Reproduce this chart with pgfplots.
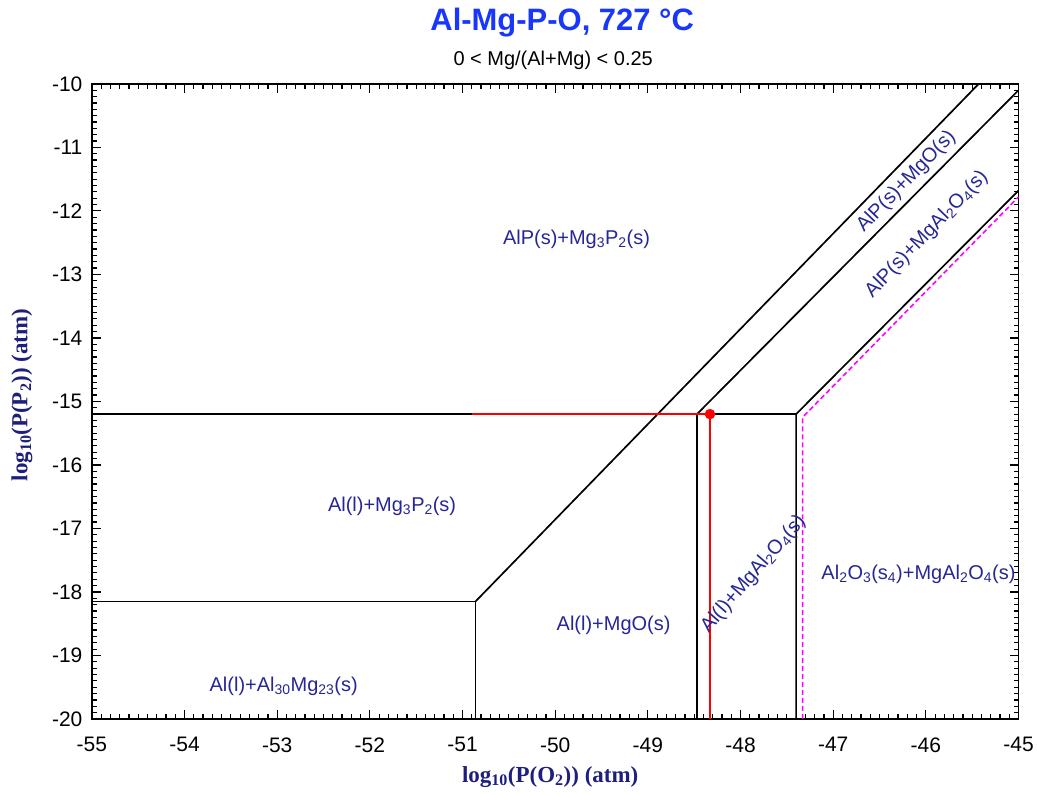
\documentclass[border=0pt]{standalone}
\usepackage{fontspec}
\setmainfont{Liberation Sans}
\newfontfamily\timesfont{Liberation Serif}
\usepackage{pgfplots}
\pgfplotsset{compat=1.18}
\definecolor{lblblue}{RGB}{38,38,150}
\definecolor{ttlblue}{RGB}{25,55,250}
\definecolor{axblue}{RGB}{30,30,125}
\definecolor{magdash}{RGB}{255,0,255}
\newcommand{\lbl}{\fontsize{20bp}{23bp}\selectfont}
\newcommand{\sub}[1]{\textsubscript{#1}}

\begin{document}
\begin{tikzpicture}
\begin{axis}[
  scale only axis, width=928bp, height=636bp,
  xmin=-55, xmax=-45, ymin=-20, ymax=-10,
  xtick distance=1, ytick distance=1,
  minor x tick num=9, minor y tick num=9,
  tick align=inside,
  major tick length=9bp, minor tick length=5bp,
  tick style={black, line width=1.2bp},
  axis line style={line width=1.8bp},
  /pgf/number format/assume math mode=true,
  ticklabel style={font=\fontsize{21bp}{24bp}\selectfont},
  xticklabel style={yshift=-15bp},
  yticklabel style={xshift=-6bp},
  xlabel={\timesfont\bfseries log\sub{10}(P(O\sub{2})) (atm)},
  ylabel={\timesfont\bfseries log\sub{10}(P(P\sub{2})) (atm)},
  xlabel style={font=\fontsize{23bp}{26bp}\selectfont, color=axblue,
    at={(axis description cs:0.4946,-0.091)}, anchor=center},
  ylabel style={font=\fontsize{23bp}{26bp}\selectfont, color=axblue,
    at={(axis description cs:-0.0754,0.51)}, anchor=center},
]
  % phase boundaries
  \addplot[black, line width=1.7bp] coordinates {(-55,-15.2) (-47.40,-15.2)};
  \addplot[black, line width=1.7bp] coordinates {(-55,-18.15) (-50.86,-18.15) (-50.86,-20)};
  \addplot[black, line width=1.7bp] coordinates {(-50.86,-18.15) (-45.43,-10)};
  \addplot[black, line width=1.7bp] coordinates {(-48.47,-20) (-48.47,-15.2) (-45,-10.1)};
  \addplot[black, line width=1.7bp] coordinates {(-47.40,-20) (-47.40,-15.2) (-45,-11.68)};
  % magenta dashed boundary
  \addplot[magdash, line width=1.6bp, dash pattern=on 5bp off 3bp] coordinates {(-47.33,-20) (-47.33,-15.25) (-45,-11.78)};
  % red path and point
  \addplot[red, line width=1.7bp] coordinates {(-50.90,-15.2) (-48.33,-15.2) (-48.33,-20)};
  \addplot[only marks, mark=*, red, mark size=5bp] coordinates {(-48.33,-15.2)};

  % region labels
  \node[lblblue, font=\lbl] at (axis cs:-49.77,-12.45) {AlP(s)+Mg\sub{3}P\sub{2}(s)};
  \node[lblblue, font=\lbl] at (axis cs:-51.76,-16.65) {Al(l)+Mg\sub{3}P\sub{2}(s)};
  \node[lblblue, font=\lbl] at (axis cs:-52.93,-19.48) {Al(l)+Al\sub{30}Mg\sub{23}(s)};
  \node[lblblue, font=\lbl] at (axis cs:-49.37,-18.52) {Al(l)+MgO(s)};
  \node[lblblue, font=\lbl, rotate=49] at (axis cs:-47.86,-17.72) {Al(l)+MgAl\sub{2}O\sub{4}(s)};
  \node[lblblue, font=\lbl, rotate=46] at (axis cs:-46.21,-11.54) {AlP(s)+MgO(s)};
  \node[lblblue, font=\lbl, rotate=46] at (axis cs:-45.99,-12.37) {AlP(s)+MgAl\sub{2}O\sub{4}(s)};
  \node[lblblue, font=\lbl] at (axis cs:-46.08,-17.72) {Al\sub{2}O\sub{3}(s\sub{4})+MgAl\sub{2}O\sub{4}(s)};
\end{axis}
\node[ttlblue, font=\fontsize{31bp}{34bp}\selectfont\bfseries] at ([xshift=7bp,yshift=61bp]current axis.north) {Al-Mg-P-O, 727 °C};
\node[black, font=\fontsize{20bp}{23bp}\selectfont] at ([xshift=-2bp,yshift=24bp]current axis.north) {0 < Mg/(Al+Mg) < 0.25};
\path ([xshift=-92bp,yshift=-76bp]current axis.south west) rectangle ([xshift=17bp,yshift=84bp]current axis.north east);
\end{tikzpicture}
\end{document}
